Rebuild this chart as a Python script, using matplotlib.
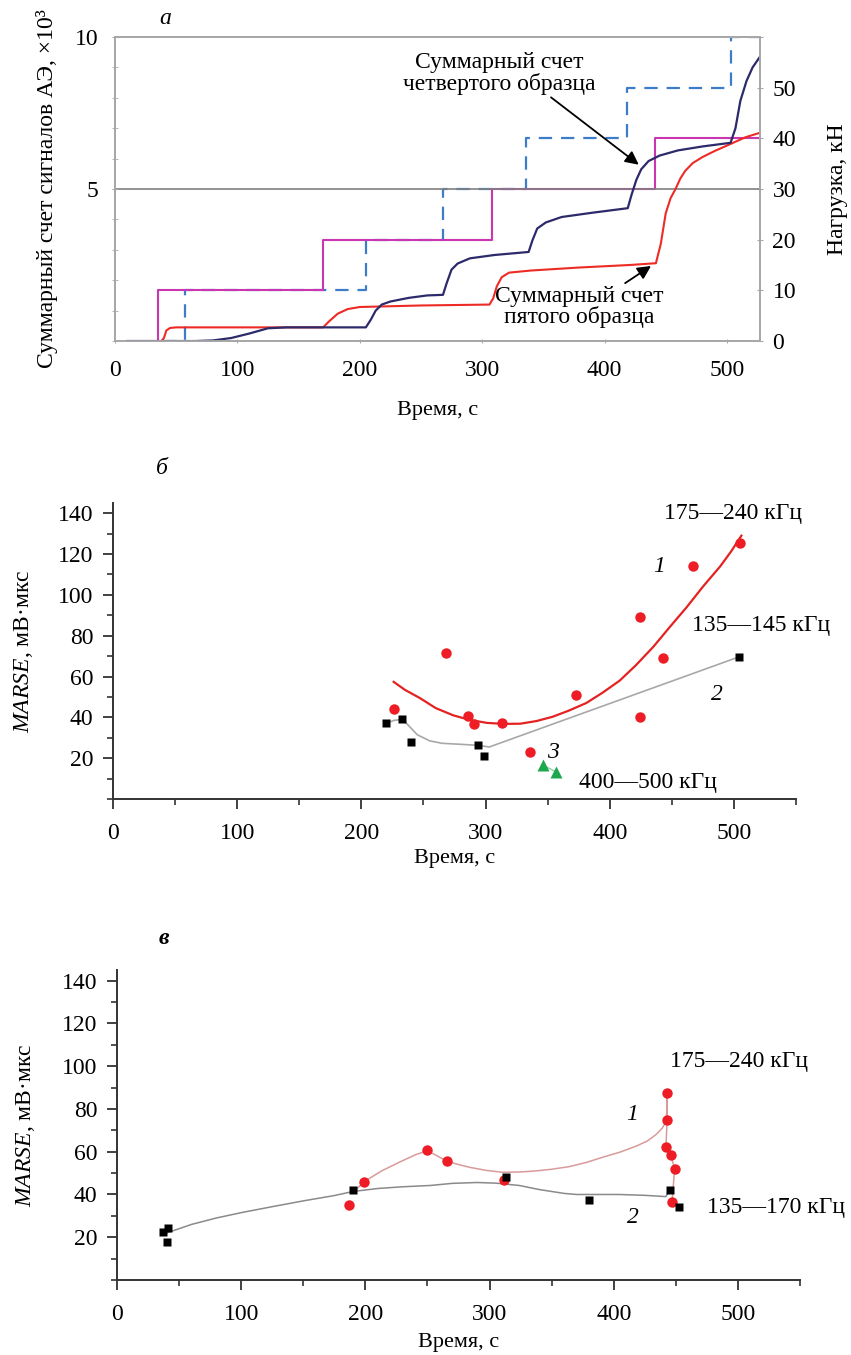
import numpy as np
import matplotlib
matplotlib.use("Agg")
import matplotlib.pyplot as plt
from matplotlib.ticker import MultipleLocator

plt.rcParams['font.family'] = ['Liberation Serif', 'DejaVu Serif']
plt.rcParams['mathtext.fontset'] = 'custom'
plt.rcParams['mathtext.rm'] = 'Liberation Serif'
plt.rcParams['mathtext.it'] = 'Liberation Serif:italic'
FS = 17

# ---------- panel a: cumulative AE counts and load ----------
t_cnt4 = [10, 65, 80, 95, 110, 125, 140, 205, 209, 213, 218, 225, 240, 255, 268, 271, 275, 280,
          290, 310, 338, 341, 345, 352, 365, 390, 419, 422, 426, 430, 436, 445, 460, 480, 503,
          507, 511, 516, 521, 527]
cnt4 = [0, 0, 0.02, 0.1, 0.25, 0.42, 0.45, 0.45, 0.7, 1.0, 1.2, 1.3, 1.42, 1.5, 1.52, 1.9, 2.35,
        2.55, 2.72, 2.83, 2.93, 3.3, 3.7, 3.9, 4.08, 4.22, 4.37, 4.8, 5.3, 5.65, 5.92, 6.1, 6.27,
        6.4, 6.52, 7.0, 7.9, 8.55, 9.0, 9.35]

t_cnt5 = [38, 40, 42, 45, 50, 170, 175, 182, 190, 200, 250, 306, 309, 312, 316, 322, 340, 380,
          420, 442, 446, 450, 454, 458, 462, 466, 472, 480, 490, 504, 515, 527]
cnt5 = [0, 0.1, 0.35, 0.43, 0.45, 0.45, 0.65, 0.9, 1.05, 1.12, 1.17, 1.2, 1.4, 1.8, 2.1, 2.25,
        2.32, 2.42, 2.5, 2.56, 3.2, 4.2, 4.7, 5.0, 5.35, 5.6, 5.85, 6.05, 6.25, 6.5, 6.7, 6.85]

t_load5 = [10, 35, 170, 308, 441, 527]
load5 = [0, 10, 20, 30, 40, 40]
t_load4 = [40, 57, 205, 268, 336, 418, 503, 527]
load4 = [0, 10, 20, 30, 40, 50, 60, 60]

# ---------- panel b ----------
b_red_t = [226, 268, 286, 291, 313, 336, 373, 424, 424, 443, 467, 505]
b_red_v = [44, 71.6, 40.7, 36.8, 37.3, 23, 51, 89, 40, 69, 114, 125.5]
b_fit1_t = [226, 235, 247, 260, 274, 287, 301, 315, 328, 341, 354, 367, 381, 394, 408, 421, 435,
            448, 462, 475, 489, 498, 506]
b_fit1_v = [57.4, 53.5, 49.5, 44.5, 41, 38.8, 37.3, 36.8, 36.9, 38.2, 40.3, 43.3, 47, 52, 58,
            65.5, 74.5, 84, 94, 104, 114, 121.5, 129]
b_sq_t = [220, 233, 240, 294, 299, 504]
b_sq_v = [37, 39, 28, 26.5, 21, 69.6]
b_fit2_t = [220, 226, 233, 238, 245, 255, 265, 280, 294, 303, 504]
b_fit2_v = [37, 38.5, 39, 36, 31.5, 28.5, 27.3, 26.8, 26.3, 25.5, 69.6]
b_tri_t = [346, 357]
b_tri_v = [16.7, 13.2]

# ---------- panel v ----------
v_red_t = [187, 199, 250, 266, 312, 443, 443, 442, 446, 449, 447]
v_red_v = [35.3, 46, 60.7, 55.5, 47, 87.5, 75, 62, 58.5, 52, 36.7]
v_fit1_t = [191, 199, 213, 227, 240, 250, 258, 266, 275, 284, 297, 310, 324, 337, 350, 364, 378,
            391, 405, 418, 427, 434, 439, 442, 443, 443, 443, 442, 446, 449, 447]
v_fit1_v = [41.4, 46, 51, 55, 58.5, 60.5, 58, 55.5, 54, 52.7, 51.3, 50.4, 50.5, 51, 51.8, 53, 55,
            57.4, 59.8, 62.6, 65, 68, 71, 73.9, 81, 87.5, 75, 62, 58.5, 52, 36.7]
v_sq_t = [37, 41, 40, 190, 313.5, 380, 445, 452.6]
v_sq_v = [22.6, 24.5, 17.6, 42, 48, 37.6, 42, 34]
v_fit2_t = [40, 60, 80, 100, 125, 150, 175, 190, 210, 230, 252, 270, 290, 305, 324, 340, 350, 360,
            370, 404, 425, 442, 445]
v_fit2_v = [22, 26, 29, 31.5, 34.3, 37, 39.5, 41.4, 42.8, 43.6, 44.2, 45.2, 45.6, 45.3, 44.2, 42.3,
            41.4, 40.5, 40, 40, 39.6, 39, 42]

fig = plt.figure(figsize=(8.51, 13.55), dpi=100)

# ================= panel a =================
ax = fig.add_axes([0.1351, 0.7483, 0.7579, 0.2244])
ax2 = ax.twinx()
ax.set_zorder(ax2.get_zorder() + 1)
ax.patch.set_visible(False)

ax2.plot(t_load4, load4, drawstyle='steps-post', color='#3d7cc9', lw=1.6, dashes=(6, 4))
ax2.plot(t_load5, load5, drawstyle='steps-post', color='#c936b0', lw=1.5)
ax.axhline(5, color='#808080', lw=1.2, zorder=0)
ax.plot(t_cnt5, cnt5, color='#ee2a24', lw=1.5)
ax.plot(t_cnt4, cnt4, color='#2c2a6a', lw=1.6)

ax.set_xlim(0, 527)
ax.set_ylim(0, 10)
ax2.set_ylim(0, 60)
ax.set_xticks(range(0, 501, 100))
ax.set_yticks([5, 10])
ax.yaxis.set_minor_locator(MultipleLocator(1))
ax2.set_yticks(range(0, 61, 10))
ax2.set_yticklabels(['0', '10', '20', '30', '40', '50', ''])
for a_ in (ax, ax2):
    for s in a_.spines.values():
        s.set_color('#a8a8a8')
        s.set_linewidth(1.3)
ax.tick_params(axis='x', labelsize=FS, pad=12, color='#a8a8a8', length=3, direction='inout')
ax.tick_params(axis='y', which='both', labelsize=FS, pad=10, color='#a8a8a8', length=4,
               direction='inout')
ax2.tick_params(axis='y', labelsize=FS, pad=7, color='#a8a8a8', length=4, direction='inout')

ax.set_xlabel('Время, с', fontsize=16)
ax.xaxis.set_label_coords(0.5, -0.197)
ax.set_ylabel('Суммарный счет сигналов АЭ, ×10³', fontsize=FS)
ax.yaxis.set_label_coords(-0.088, 0.5)
ax2.set_ylabel('Нагрузка, кН', fontsize=FS)
ax2.yaxis.set_label_coords(1.104, 0.5)

ax.annotate('Суммарный счет\nчетвертого образца', xy=(428, 5.8), xytext=(314, 8.8),
            ha='center', va='center', fontsize=FS, linespacing=0.95,
            arrowprops=dict(arrowstyle='-|>', color='black', lw=1.3, mutation_scale=20,
                            shrinkA=0, shrinkB=0, relpos=(0.75, 0.0)))
ax.annotate('Суммарный счет\nпятого образца', xy=(438, 2.47), xytext=(379, 1.12),
            ha='center', va='center', fontsize=FS, linespacing=0.95,
            arrowprops=dict(arrowstyle='-|>', color='black', lw=1.3, mutation_scale=20,
                            shrinkA=0, shrinkB=0, relpos=(0.75, 1.0)))
ax.text(41, 10.6, 'а', fontsize=FS, style='italic', ha='center', va='center', clip_on=False)


def marse_axes(rect):
    a = fig.add_axes(rect)
    a.spines['top'].set_visible(False)
    a.spines['right'].set_visible(False)
    for s in ('left', 'bottom'):
        a.spines[s].set_color('#333333')
        a.spines[s].set_linewidth(1.4)
    a.set_xlim(0, 550)
    a.set_ylim(0, 145)
    a.set_xticks(range(0, 501, 100))
    a.xaxis.set_minor_locator(MultipleLocator(50))
    a.set_yticks(range(20, 141, 20))
    a.yaxis.set_minor_locator(MultipleLocator(10))
    a.tick_params(which='major', labelsize=FS, length=7, width=1.3, color='#333333')
    a.tick_params(which='minor', length=4, width=1.2, color='#333333')
    a.tick_params(axis='x', pad=10)
    a.tick_params(axis='y', pad=7)
    a.set_xlabel('Время, с', fontsize=16)
    a.set_ylabel(r'$\mathit{MARSE}$, мВ·мкс', fontsize=FS)
    return a


# ================= panel b =================
bx = marse_axes([0.1328, 0.4103, 0.8026, 0.2185])
bx.plot(b_fit1_t, b_fit1_v, color='#e52222', lw=1.6)
bx.plot(b_fit2_t, b_fit2_v, color='#a8a8a8', lw=1.2)
bx.plot(b_tri_t, b_tri_v, color='#8fcf9f', lw=1)
bx.plot(b_red_t, b_red_v, 'o', color='#ee1c25', ms=7.5, mec='none')
bx.plot(b_sq_t, b_sq_v, 's', color='black', ms=6, mec='none')
bx.plot(b_tri_t, b_tri_v, '^', color='#1ea84e', ms=8, mec='none')
bx.xaxis.set_label_coords(0.5, -0.17)
bx.yaxis.set_label_coords(-0.114, 0.5)
bx.text(499, 140, '175—240 кГц', fontsize=FS, ha='center', va='center', clip_on=False)
bx.text(440, 114, '1', fontsize=FS, style='italic', ha='center', va='center')
bx.text(522, 85, '135—145 кГц', fontsize=FS, ha='center', va='center', clip_on=False)
bx.text(486, 51, '2', fontsize=FS, style='italic', ha='center', va='center')
bx.text(354, 23, '3', fontsize=FS, style='italic', ha='center', va='center')
bx.text(431, 8.3, '400—500 кГц', fontsize=FS, ha='center', va='center')
bx.text(39.5, 162, 'б', fontsize=FS, style='italic', ha='center', va='center', clip_on=False)

# ================= panel v =================
vx = marse_axes([0.1375, 0.05535, 0.8026, 0.2288])
vx.plot(v_fit1_t, v_fit1_v, color='#d99a9a', lw=1.1)
vx.plot(v_fit2_t, v_fit2_v, color='#8a8a8a', lw=1.1)
vx.plot(v_red_t, v_red_v, 'o', color='#ee1c25', ms=7.5, mec='none')
vx.plot(v_sq_t, v_sq_v, 's', color='black', ms=6, mec='none')
vx.xaxis.set_label_coords(0.5, -0.17)
vx.yaxis.set_label_coords(-0.117, 0.5)
vx.text(501, 102, '175—240 кГц', fontsize=FS, ha='center', va='center', clip_on=False)
vx.text(415, 77.6, '1', fontsize=FS, style='italic', ha='center', va='center')
vx.text(531, 34, '135—170 кГц', fontsize=FS, ha='center', va='center', clip_on=False)
vx.text(415.6, 29, '2', fontsize=FS, style='italic', ha='center', va='center')
vx.text(38, 159.5, 'в', fontsize=FS, style='italic', weight='bold', ha='center', va='center',
        clip_on=False)

fig.savefig('out.png', dpi=100)
